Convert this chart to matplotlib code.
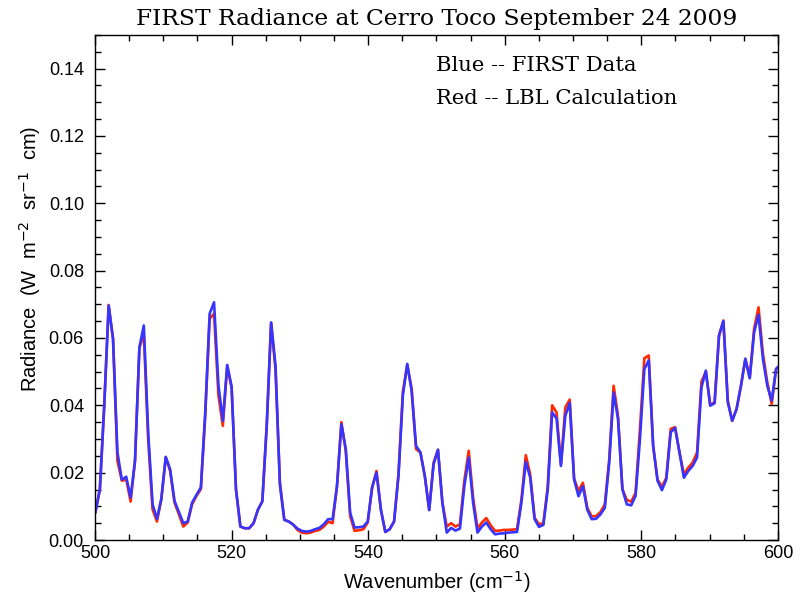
import numpy as np
import matplotlib
matplotlib.use("Agg")
import matplotlib.pyplot as plt
from matplotlib.ticker import MultipleLocator

# spectral grid of the FIRST instrument (cm^-1)
start_wn = 500.07
step_wn = 0.643

# Blue -- FIRST measured radiance
first_data = [
    0.0083, 0.0151, 0.0400, 0.0696, 0.0597, 0.0260, 0.0179, 0.0188, 0.0126, 0.0235,
    0.0572, 0.0637, 0.0320, 0.0106, 0.0063, 0.0123, 0.0247, 0.0210, 0.0116, 0.0083,
    0.0050, 0.0055, 0.0111, 0.0134, 0.0156, 0.0380, 0.0672, 0.0706, 0.0460, 0.0354,
    0.0520, 0.0455, 0.0150, 0.0040, 0.0035, 0.0035, 0.0050, 0.0090, 0.0115, 0.0340,
    0.0646, 0.0518, 0.0165, 0.0060, 0.0055, 0.0046, 0.0034, 0.0027, 0.0025, 0.0027,
    0.0032, 0.0036, 0.0047, 0.0062, 0.0062, 0.0160, 0.0344, 0.0270, 0.0081, 0.0037,
    0.0038, 0.0040, 0.0055, 0.0156, 0.0200, 0.0090, 0.0024, 0.0032, 0.0055, 0.0190,
    0.0429, 0.0523, 0.0443, 0.0280, 0.0260, 0.0190, 0.0089, 0.0225, 0.0268, 0.0111,
    0.0022, 0.0036, 0.0028, 0.0034, 0.0160, 0.0245, 0.0110, 0.0022, 0.0040, 0.0052,
    0.0032, 0.0017, 0.0019, 0.0020, 0.0022, 0.0023, 0.0024, 0.0111, 0.0232, 0.0186,
    0.0062, 0.0039, 0.0045, 0.0150, 0.0379, 0.0361, 0.0220, 0.0369, 0.0407, 0.0180,
    0.0130, 0.0160, 0.0090, 0.0062, 0.0063, 0.0076, 0.0096, 0.0230, 0.0438, 0.0359,
    0.0151, 0.0106, 0.0103, 0.0131, 0.0300, 0.0508, 0.0533, 0.0280, 0.0176, 0.0148,
    0.0180, 0.0320, 0.0333, 0.0260, 0.0185, 0.0205, 0.0220, 0.0245, 0.0453, 0.0503,
    0.0399, 0.0406, 0.0607, 0.0650, 0.0409, 0.0354, 0.0389, 0.0458, 0.0538, 0.0480,
    0.0617, 0.0669, 0.0538, 0.0458, 0.0414, 0.0508, 0.0520,
]

# Red -- LBL calculation
lbl_calc = [
    0.0083, 0.0151, 0.0400, 0.0698, 0.0597, 0.0235, 0.0176, 0.0180, 0.0114, 0.0235,
    0.0570, 0.0612, 0.0300, 0.0091, 0.0055, 0.0121, 0.0245, 0.0205, 0.0111, 0.0076,
    0.0040, 0.0052, 0.0106, 0.0131, 0.0151, 0.0370, 0.0657, 0.0672, 0.0430, 0.0339,
    0.0516, 0.0453, 0.0150, 0.0040, 0.0035, 0.0035, 0.0050, 0.0090, 0.0115, 0.0340,
    0.0645, 0.0505, 0.0170, 0.0060, 0.0055, 0.0046, 0.0030, 0.0022, 0.0020, 0.0022,
    0.0027, 0.0030, 0.0040, 0.0054, 0.0050, 0.0160, 0.0350, 0.0265, 0.0071, 0.0027,
    0.0029, 0.0032, 0.0052, 0.0156, 0.0205, 0.0090, 0.0024, 0.0032, 0.0055, 0.0195,
    0.0440, 0.0520, 0.0450, 0.0270, 0.0260, 0.0190, 0.0089, 0.0230, 0.0268, 0.0111,
    0.0040, 0.0050, 0.0040, 0.0047, 0.0176, 0.0265, 0.0126, 0.0034, 0.0052, 0.0065,
    0.0044, 0.0027, 0.0028, 0.0030, 0.0030, 0.0031, 0.0032, 0.0120, 0.0252, 0.0195,
    0.0066, 0.0047, 0.0049, 0.0160, 0.0400, 0.0379, 0.0225, 0.0394, 0.0417, 0.0182,
    0.0146, 0.0170, 0.0096, 0.0070, 0.0071, 0.0083, 0.0106, 0.0240, 0.0458, 0.0369,
    0.0151, 0.0119, 0.0114, 0.0140, 0.0330, 0.0540, 0.0548, 0.0280, 0.0180, 0.0158,
    0.0185, 0.0330, 0.0335, 0.0260, 0.0195, 0.0215, 0.0230, 0.0260, 0.0470, 0.0500,
    0.0400, 0.0410, 0.0607, 0.0652, 0.0414, 0.0354, 0.0389, 0.0458, 0.0538, 0.0483,
    0.0627, 0.0691, 0.0553, 0.0468, 0.0404, 0.0508, 0.0520,
]

wavenumber = start_wn + step_wn * np.arange(len(first_data))

fig = plt.figure(figsize=(8.12, 5.95), dpi=100)
ax = fig.add_axes([0.117, 0.0924, 0.841, 0.849])

ax.plot(wavenumber, lbl_calc, color="#ff2a00", lw=1.9)
ax.plot(wavenumber, first_data, color="#3535ff", lw=1.9)

ax.set_xlim(500, 600)
ax.set_ylim(0, 0.15)
ax.xaxis.set_major_locator(MultipleLocator(20))
ax.xaxis.set_minor_locator(MultipleLocator(5))
ax.yaxis.set_major_locator(MultipleLocator(0.02))
ax.yaxis.set_minor_locator(MultipleLocator(0.005))
ax.yaxis.set_major_formatter(plt.FormatStrFormatter("%.2f"))

ax.tick_params(which="both", direction="in", top=True, right=True, width=1.0,
               labelsize=13, colors="black")
ax.tick_params(which="major", length=7.5)
ax.tick_params(which="minor", length=4)
ax.tick_params(axis="y", which="major", pad=8)
for lab in ax.get_xticklabels() + ax.get_yticklabels():
    lab.set_family("Liberation Sans")
for sp in ax.spines.values():
    sp.set_linewidth(1.0)

ax.set_xlabel("Wavenumber (cm$^{-1}$)", family="Liberation Sans", fontsize=14.5, labelpad=5)
ax.set_ylabel("Radiance  (W  m$^{-2}$  sr$^{-1}$  cm)", family="Liberation Sans", fontsize=14.5)
ax.yaxis.set_label_coords(-0.095, 0.556)
ax.yaxis.label.set_va("center")
ax.set_title("FIRST Radiance at Cerro Toco September 24 2009", family="DejaVu Serif",
             fontsize=16.8, pad=7)

ax.text(0.499, 0.94, "Blue -- FIRST Data", transform=ax.transAxes, family="DejaVu Serif",
        fontsize=15.2, va="center", ha="left")
ax.text(0.499, 0.875, "Red -- LBL Calculation", transform=ax.transAxes, family="DejaVu Serif",
        fontsize=15.2, va="center", ha="left")

fig.savefig("out.png", dpi=100)
